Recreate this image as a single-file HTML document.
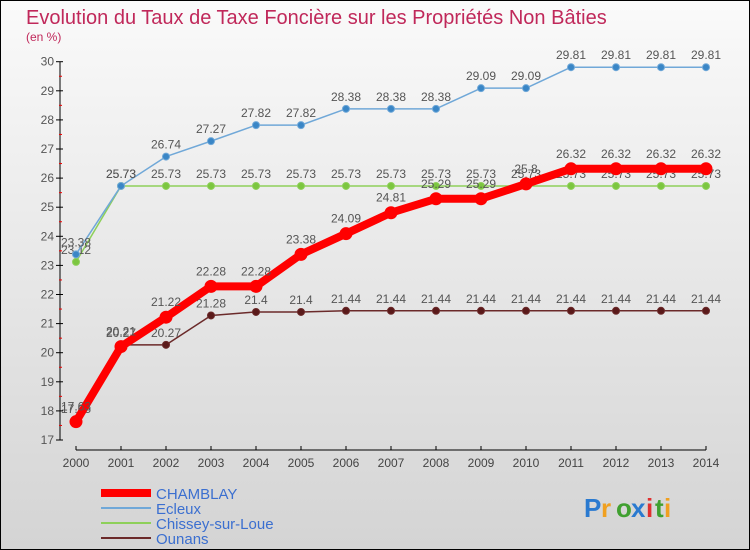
<!DOCTYPE html>
<html><head><meta charset="utf-8"><style>
body{margin:0}
#c{width:748px;height:548px;border:1px solid #000;background:linear-gradient(#fafafa,#d4d4d4);position:relative;font-family:"Liberation Sans",sans-serif;overflow:hidden}
</style></head><body>
<div id="c">
<svg id="s" width="748" height="548"></svg>
</div>
<script>
const years=[2000,2001,2002,2003,2004,2005,2006,2007,2008,2009,2010,2011,2012,2013,2014];
const chamblay=[17.63,20.21,21.22,22.28,22.28,23.38,24.09,24.81,25.29,25.29,25.8,26.32,26.32,26.32,26.32];
const ecleux=[23.38,25.73,26.74,27.27,27.82,27.82,28.38,28.38,28.38,29.09,29.09,29.81,29.81,29.81,29.81];
const chissey=[23.12,25.73,25.73,25.73,25.73,25.73,25.73,25.73,25.73,25.73,25.73,25.73,25.73,25.73,25.73];
const ounans=[17.65,20.27,20.27,21.28,21.4,21.4,21.44,21.44,21.44,21.44,21.44,21.44,21.44,21.44,21.44];
const yTicks=[17,18,19,20,21,22,23,24,25,26,27,28,29,30];
const NS="http://www.w3.org/2000/svg",s=document.getElementById('s');
const X=i=>75+i*45, Y=v=>439-(v-17)*29.1;
function el(t,a,p){const e=document.createElementNS(NS,t);for(const k in a)e.setAttribute(k,a[k]);(p||s).appendChild(e);return e;}
function tx(x,y,str,a,p){const e=el('text',Object.assign({x:x,y:y},a),p);e.textContent=str;return e;}
let t=tx(25,23,"Evolution du Taux de Taxe Foncière sur les Propriétés Non Bâties",{fill:"#c0285a","font-size":20});

t=tx(25,40,"(en %)",{fill:"#c0285a","font-size":12});

let ax=el('g',{});
el('line',{x1:59,y1:Y(30),x2:59,y2:Y(17),stroke:"#000"},ax);
yTicks.forEach(v=>{el('line',{x1:55,x2:62,y1:Y(v),y2:Y(v),stroke:"#000"},ax);
 if(v<30)el('line',{x1:58,x2:61,y1:Y(v+0.5),y2:Y(v+0.5),stroke:"#e00"},ax);
 tx(53,Y(v)+4,v,{"text-anchor":"end","font-size":12,fill:"#555"},ax);});
let xa=el('g',{});
el('line',{x1:X(0),x2:X(14),y1:Y(17)+10,y2:Y(17)+10,stroke:"#000"},xa);
years.forEach((y,i)=>{el('line',{x1:X(i),x2:X(i),y1:Y(17)+6,y2:Y(17)+10,stroke:"#000"},xa);
 tx(X(i),Y(17)+27,y,{"text-anchor":"middle","font-size":12,fill:"#444"},xa);});
function series(name,data,col,w,r,fill,dy){
 const g=el('g',{});
 el('polyline',{points:data.map((v,i)=>X(i)+','+Y(v)).join(' '),fill:"none",stroke:col,"stroke-width":w,"stroke-linejoin":"round"},g);
 data.forEach((v,i)=>{const c=el('circle',{cx:X(i),cy:Y(v),r:r,fill:fill,stroke:col,"stroke-width":1},g);
  
  tx(X(i),Y(v)-dy,v,{"text-anchor":"middle","font-size":12,fill:"#555"},g);});
}
series('ounans',ounans,'#6b2a2a',1.5,3.5,'#5a1a1a',8);
series('chissey',chissey,'#8ed05a',1.5,3.5,'#7cc640',8);
series('ecleux',ecleux,'#70a8d8',1.5,3.5,'#3a86c6',8);
series('chamblay',chamblay,'#ff0000',8,6,'#ff0000',11);
const legend=[['CHAMBLAY','#ff0000',8],['Ecleux','#70a8d8',2],['Chissey-sur-Loue','#8ed05a',2],['Ounans','#6b2a2a',2]];
legend.forEach((l,i)=>{const g=el('g',{});
 const y=492+i*15;el('line',{x1:100,x2:150,y1:y,y2:y,stroke:l[1],"stroke-width":l[2]},g);
 tx(155,y+6,l[0],{"font-size":15,fill:"#3b6fd0"},g);});
const lg=el('g',{});
const word=[['P','#2a7ad0'],['r','#f0a020'],['o','#40a030'],['x','#2a7ad0'],['i','#e03030'],['t','#40a030'],['i','#f0a020']];
let lx=583;word.forEach(w=>{tx(lx,516,w[0],{"font-size":26,"font-weight":"bold",fill:w[1]},lg);lx+=w[0]=='P'?17:(w[0]=='i'||w[0]=='t'?9:15);});
</script>
</body></html>
